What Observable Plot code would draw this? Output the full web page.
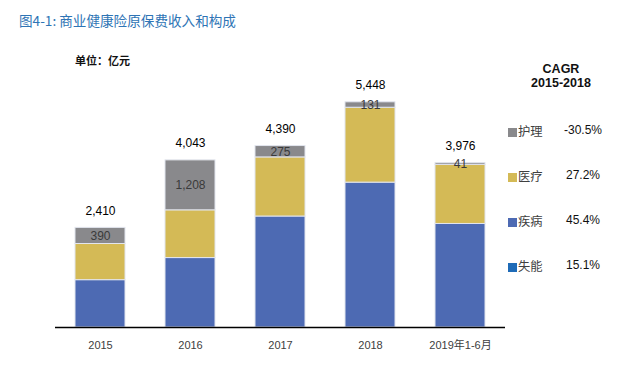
<!DOCTYPE html>
<html>
<head>
<meta charset="utf-8">
<script src="https://cdn.jsdelivr.net/npm/d3@7"></script>
<script src="https://cdn.jsdelivr.net/npm/@observablehq/plot@0.6"></script>
<style>
  html, body { margin: 0; padding: 0; background: #fff; }
  #wrap { position: relative; width: 636px; height: 379px; overflow: hidden; font-family: "Liberation Sans", "Noto Sans CJK SC", sans-serif; }
  #chart { position: absolute; left: 0; top: 0; }
  .abs { position: absolute; white-space: nowrap; }
  #title { left: 19px; top: 10px; font-size: 13.6px; color: #2E74B5; font-family: "Noto Sans CJK SC", sans-serif; }
  #unit { left: 75px; top: 52px; font-size: 11px; color: #111; font-weight: bold; font-family: "Noto Sans CJK SC", sans-serif; }
  #cagr { left: 513px; top: 62px; width: 96px; text-align: center; font-size: 12.5px; font-weight: bold; color: #111; line-height: 14px; }
  .lg { position: absolute; left: 508px; width: 120px; height: 16px; white-space: nowrap; font-size: 12.3px; color: #404040; font-family: "Noto Sans CJK SC", sans-serif; }
  .lg .sw { position: absolute; left: 0; top: 4px; width: 9px; height: 9px; }
  .lg .nm { position: absolute; left: 10px; top: -2px; }
  .lg .val { position: absolute; left: 45px; width: 60px; text-align: center; top: -1px; font-family: "Liberation Sans", sans-serif; font-size: 12px; color: #111; }
</style>
</head>
<body>
<div id="wrap">
  <div id="chart"></div>
  <div id="title" class="abs">图4-1: 商业健康险原保费收入和构成</div>
  <div id="unit" class="abs">单位：亿元</div>
  <div id="cagr" class="abs">CAGR<br>2015-2018</div>
  <div id="legend"></div>
</div>
<script>
// ---- data ----
const categories = ["2015", "2016", "2017", "2018", "2019年1-6月"];
const seriesNames = ["疾病", "医疗", "护理"];
const jibing = [1145, 1680, 2685, 3505, 2505];   // 疾病
const yiliao = [875, 1155, 1430, 1812, 1430];    // 医疗
const huli = [390, 1208, 275, 131, 41];          // 护理
const totals = [2410, 4043, 4390, 5448, 3976];

const legendNames = ["护理", "医疗", "疾病", "失能"];
const cagrValues = ["-30.5%", "27.2%", "45.4%", "15.1%"];

// ---- colors ----
const seriesColors = ["#4D6AB3", "#D4BA56", "#89898C"];
const legendColors = ["#89898C", "#D4BA56", "#4D6AB3", "#1F6BB7"];

// ---- build tables ----
const seriesValues = [jibing, yiliao, huli];
const rows = [];
seriesNames.forEach((s, si) => {
  categories.forEach((c, ci) => rows.push({cat: c, series: s, value: seriesValues[si][ci]}));
});
const grayLabels = categories.map((c, i) => ({
  cat: c, mid: jibing[i] + yiliao[i] + huli[i] / 2, label: d3.format(",")(huli[i])
}));
const totalRows = categories.map((c, i) => ({cat: c, total: totals[i], label: d3.format(",")(totals[i])}));

const chart = Plot.plot({
  width: 636,
  height: 379,
  marginLeft: 55,
  marginRight: 131,
  marginTop: 79,
  marginBottom: 52,
  style: {fontFamily: "'Liberation Sans','Noto Sans CJK SC',sans-serif", fontSize: "11px", color: "#404040", background: "transparent"},
  x: {domain: categories, paddingInner: 0.444, paddingOuter: 0.222, label: null, tickSize: 0, tickPadding: 14},
  y: {domain: [0, 6000], axis: null},
  color: {domain: seriesNames, range: seriesColors},
  marks: [
    Plot.barY(rows, {x: "cat", y: "value", fill: "series", stroke: "#e2e5ee", strokeWidth: 1}),
    Plot.ruleY([0], {stroke: "#000", strokeWidth: 1.5}),
    Plot.text(grayLabels, {x: "cat", y: "mid", text: "label", fill: "#3a3a3a", fontSize: 12}),
    Plot.text(totalRows, {x: "cat", y: "total", text: "label", dy: -17, fill: "#000", fontSize: 12})
  ]
});
document.getElementById("chart").appendChild(chart);

// ---- legend ----
const legendTops = [124, 169, 214, 259];
const lg = document.getElementById("legend");
legendNames.forEach((n, i) => {
  const d = document.createElement("div");
  d.className = "lg";
  d.style.top = legendTops[i] + "px";
  d.innerHTML = `<span class="sw" style="background:${legendColors[i]}"></span><span class="nm">${n}</span><span class="val">${cagrValues[i]}</span>`;
  lg.appendChild(d);
});
</script>
</body>
</html>
